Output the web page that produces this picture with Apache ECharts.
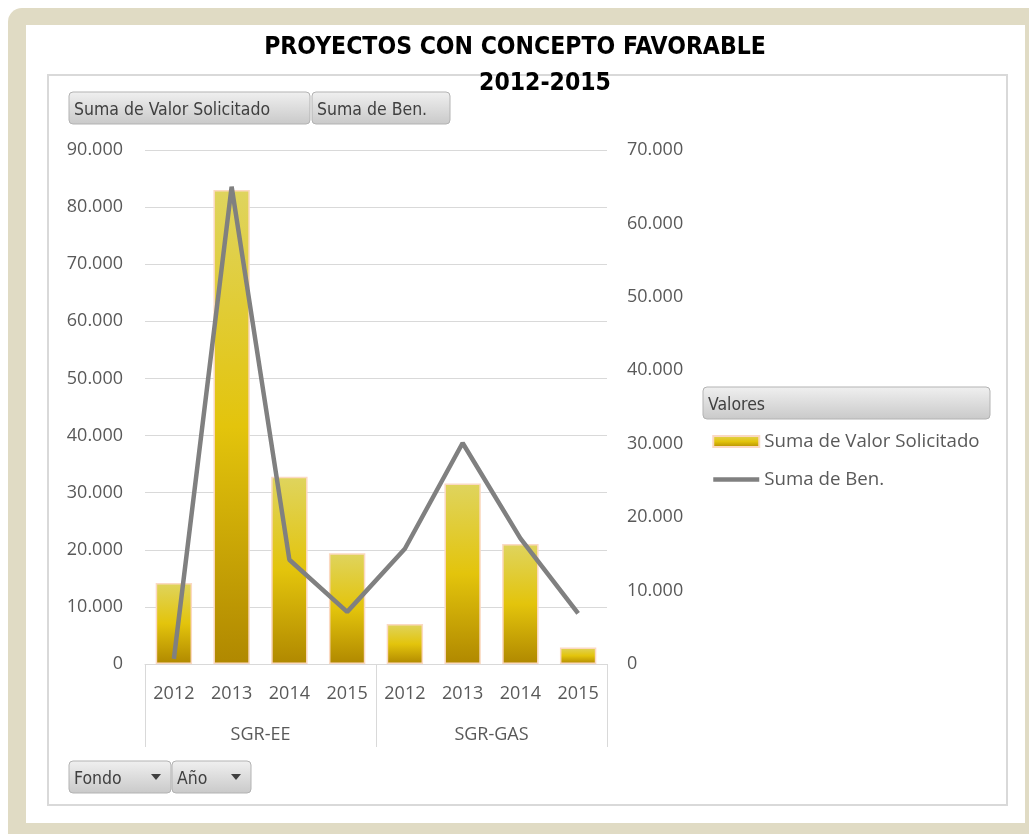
<!DOCTYPE html>
<html>
<head>
<meta charset="utf-8">
<title>Proyectos con concepto favorable</title>
<script src="https://cdn.jsdelivr.net/npm/echarts@6/dist/echarts.min.js"></script>
<style>
  html, body { margin: 0; padding: 0; background: #fff; }
  #chart { width: 1029px; height: 834px; }
</style>
</head>
<body>
<div id="chart"></div>
<script>
// datos
const years = ["2012", "2013", "2014", "2015", "2012", "2013", "2014", "2015"];
const groups = ["SGR-EE", "SGR-GAS"];
const valorSolicitado = [14200, 83000, 32800, 19400, 7000, 31600, 21000, 2900];
const sumaBen = [700, 65000, 14200, 7100, 15700, 30100, 17100, 6900];
const leftTicks = { min: 0, max: 90000, interval: 10000 };
const rightTicks = { min: 0, max: 70000, interval: 10000 };

const txtFont = "'Open Sans', 'Noto Sans', sans-serif";
const btnFont = "'Liberation Sans Narrow', 'DejaVu Sans Condensed', sans-serif";
const txtColor = "#595959";

function fmt(v) {
  return String(v).replace(/\B(?=(\d{3})+(?!\d))/g, ".");
}

// boton gris tipo tabla dinamica
function button(x, y, w, h, label, arrow) {
  const children = [
    {
      type: "rect",
      shape: { x: 0, y: 0, width: w, height: h, r: 4 },
      style: {
        fill: new echarts.graphic.LinearGradient(0, 0, 0, 1, [
          { offset: 0, color: "#f0f0f0" },
          { offset: 1, color: "#c9c9c9" },
        ]),
        stroke: "#b3b3b3",
        lineWidth: 1,
      },
    },
    {
      type: "text",
      x: 5,
      y: h / 2 + 2,
      style: {
        text: label,
        font: "17.5px " + btnFont,
        fill: "#404040",
        verticalAlign: "middle",
      },
    },
  ];
  if (arrow) {
    children.push({
      type: "polygon",
      shape: { points: [[w - 20, h / 2 - 3], [w - 10, h / 2 - 3], [w - 15, h / 2 + 3]] },
      style: { fill: "#404040" },
    });
  }
  return { type: "group", x: x, y: y, z: 10, children: children };
}

const chart = echarts.init(document.getElementById("chart"));

const option = {
  animation: false,
  graphic: [
    {
      type: "rect",
      z: -10,
      shape: { x: 8, y: 8, width: 1040, height: 850, r: 14 },
      style: { fill: "#e0dbc4" },
    },
    {
      type: "rect",
      z: -9,
      shape: { x: 26, y: 25, width: 999, height: 798 },
      style: { fill: "#ffffff" },
    },
    {
      type: "rect",
      z: -8,
      shape: { x: 48, y: 75, width: 959, height: 730 },
      style: { fill: "#ffffff", stroke: "#d9d9d9", lineWidth: 2 },
    },
    {
      type: "text",
      z: 10,
      x: 515,
      y: 48,
      style: {
        text: "PROYECTOS CON CONCEPTO FAVORABLE",
        font: "bold 24.5px " + btnFont,
        fill: "#000",
        align: "center",
        verticalAlign: "middle",
      },
    },
    {
      type: "text",
      z: 10,
      x: 545,
      y: 84,
      style: {
        text: "2012-2015",
        font: "bold 24.5px " + btnFont,
        fill: "#000",
        align: "center",
        verticalAlign: "middle",
      },
    },
    button(69, 92, 241, 32, "Suma de Valor Solicitado", false),
    button(312, 92, 138, 32, "Suma de Ben.", false),
    button(69, 761, 102, 32, "Fondo", true),
    button(172, 761, 79, 32, "Año", true),
    button(703, 387, 287, 32, "Valores", false),
  ],
  legend: {
    orient: "vertical",
    left: 706,
    top: 427,
    itemWidth: 46,
    itemHeight: 11,
    itemGap: 19,
    textStyle: { fontFamily: txtFont, fontSize: 18.7, color: txtColor },
    data: [
      { name: "Suma de Valor Solicitado", icon: "rect" },
      {
        name: "Suma de Ben.",
        itemStyle: { opacity: 0 },
        lineStyle: { width: 4.5, color: "#808080" },
      },
    ],
  },
  grid: { left: 145, right: 422, top: 150, bottom: 170 },
  xAxis: [
    {
      type: "category",
      data: years,
      position: "bottom",
      axisLine: { show: true, lineStyle: { color: "#d9d9d9", width: 1 } },
      axisTick: { show: false },
      axisLabel: { margin: 21, fontFamily: txtFont, fontSize: 18, color: txtColor },
    },
    {
      type: "category",
      data: groups,
      position: "bottom",
      axisLine: { show: false },
      axisTick: { show: true, length: 83, lineStyle: { color: "#d9d9d9", width: 1 } },
      axisLabel: { margin: 62, fontFamily: txtFont, fontSize: 18, color: txtColor },
    },
  ],
  yAxis: [
    {
      type: "value",
      min: leftTicks.min,
      max: leftTicks.max,
      interval: leftTicks.interval,
      axisLine: { show: false },
      axisTick: { show: false },
      splitLine: { lineStyle: { color: "#d9d9d9", width: 1 } },
      axisLabel: { margin: 22, fontFamily: txtFont, fontSize: 18, color: txtColor, formatter: fmt },
    },
    {
      type: "value",
      position: "right",
      min: rightTicks.min,
      max: rightTicks.max,
      interval: rightTicks.interval,
      axisLine: { show: false },
      axisTick: { show: false },
      splitLine: { show: false },
      axisLabel: { margin: 20, fontFamily: txtFont, fontSize: 18, color: txtColor, formatter: fmt },
    },
  ],
  series: [
    {
      name: "Suma de Valor Solicitado",
      type: "bar",
      xAxisIndex: 0,
      yAxisIndex: 0,
      barWidth: "63%",
      data: valorSolicitado,
      itemStyle: {
        color: new echarts.graphic.LinearGradient(0, 0, 0, 1, [
          { offset: 0, color: "#dfd45e" },
          { offset: 0.5, color: "#e3c40c" },
          { offset: 1, color: "#b08800" },
        ]),
        borderColor: "#fbd9c2",
        borderWidth: 1.5,
      },
    },
    {
      name: "Suma de Ben.",
      type: "line",
      xAxisIndex: 0,
      yAxisIndex: 1,
      data: sumaBen,
      symbol: "none",
      lineStyle: { color: "#808080", width: 4.5 },
      itemStyle: { color: "#808080" },
    },
  ],
};

chart.setOption(option);
</script>
</body>
</html>
